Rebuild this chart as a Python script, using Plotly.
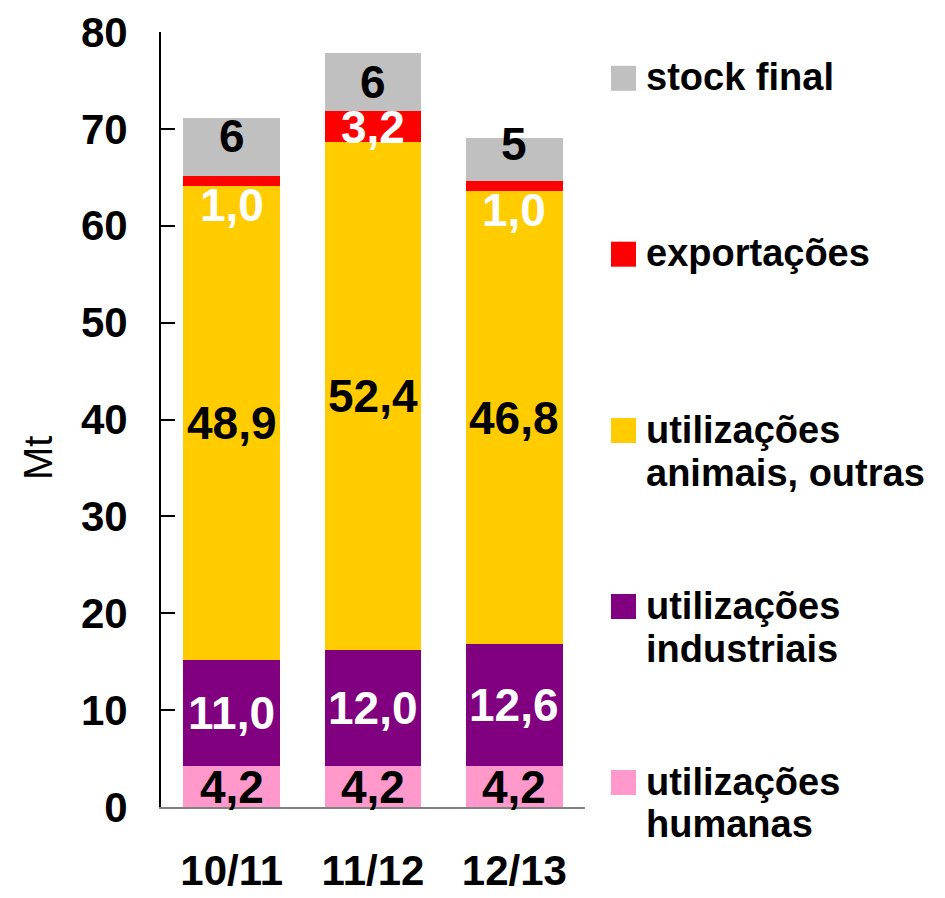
import plotly.graph_objects as go

# ---------------- data ----------------
categories = ["10/11", "11/12", "12/13"]
humanas = [4.2, 4.2, 4.2]
industriais = [11.0, 12.0, 12.6]
animais = [48.9, 52.4, 46.8]
exportacoes = [1.0, 3.2, 1.0]
stock_final = [6.0, 6.0, 4.5]

series_names = ["utilizações humanas", "utilizações industriais",
                "utilizações animais, outras", "exportações", "stock final"]
legend_lines = [["utilizações", "humanas"], ["utilizações", "industriais"],
                ["utilizações", "animais, outras"], ["exportações"], ["stock final"]]
series_values = [humanas, industriais, animais, exportacoes, stock_final]
series_colors = ["#FF99CC", "#800080", "#FFCC00", "#FF0000", "#C0C0C0"]
label_colors = ["black", "white", "black", "white", "black"]
label_formats = ["{:.1f}", "{:.1f}", "{:.1f}", "{:.1f}", "int"]
# per-label vertical nudges (pixels) for stock labels, as in the source chart
stock_label_shift = [11, 0, 15]
y_ticks = [0, 10, 20, 30, 40, 50, 60, 70, 80]

FONT = "Liberation Sans, Arial, sans-serif"

# page offset (html body margin)
OFF = 8
W, H = 945 - 2 * OFF, 898 - 2 * OFF
# plot area in page pixels
PX0, PX1, PY0, PY1 = 161, 585, 32, 807
L, T = PX0 - OFF, PY0 - OFF
R, B = W - (PX1 - OFF), H - (PY1 - OFF)
PW, PH = PX1 - PX0, PY1 - PY0


def px_x(px):
    return (px - PX0) / PW


def px_y(py):
    return (PY1 - py) / PH


fig = go.Figure()
for name, vals, col in zip(series_names, series_values, series_colors):
    fig.add_trace(go.Bar(x=categories, y=vals, name=name, marker=dict(color=col, line=dict(width=0)),
                         showlegend=False, hoverinfo="skip"))

# segment labels
annotations = []
base = [0.0] * len(categories)
for s, (vals, lc, fmt) in enumerate(zip(series_values, label_colors, label_formats)):
    for i, (cat, v) in enumerate(zip(categories, vals)):
        if fmt == "int":
            txt = str(int(v + 0.5))
        else:
            txt = fmt.format(v).replace(".", ",")
        shift = 0
        if v < 2:
            y, ya = base[i], "top"
            shift = 9
        else:
            y, ya = base[i] + v / 2, "middle"
        if s == len(series_values) - 1:
            shift = stock_label_shift[i]
        annotations.append(dict(x=cat, y=y, xref="x", yref="y", text=txt, showarrow=False,
                                yanchor=ya, xanchor="center", yshift=shift,
                                font=dict(family=FONT, size=46, color=lc, weight="bold")))
        base[i] += v

# manual legend (top = stock final)
shapes = []
centers = [782.5, 606.5, 430.5, 254.2, 78.3]
for lines, col, cy in zip(legend_lines, series_colors, centers):
    shapes.append(dict(type="rect", xref="paper", yref="paper",
                       x0=px_x(611), x1=px_x(636), y0=px_y(cy + 12.5), y1=px_y(cy - 12.5),
                       fillcolor=col, line=dict(width=0)))
    for k, ln in enumerate(lines):
        annotations.append(dict(x=px_x(644), y=px_y(cy - 1 + 43 * k), xref="paper", yref="paper",
                                text=ln, showarrow=False, xanchor="left", yanchor="middle",
                                font=dict(family=FONT, size=38, color="black", weight="bold")))

# y title
annotations.append(dict(x=px_x(38), y=px_y(458), xref="paper", yref="paper", text="Mt",
                        showarrow=False, textangle=-90, xanchor="center", yanchor="middle",
                        font=dict(family=FONT, size=40, color="black")))

fig.update_layout(
    width=W, height=H, barmode="stack", bargap=0.317,
    margin=dict(l=L, r=R, t=T, b=B, autoexpand=False),
    plot_bgcolor="white", paper_bgcolor="white",
    annotations=annotations, shapes=shapes,
    xaxis=dict(showline=True, linecolor="#808080", linewidth=2, ticks="", automargin=False,
               tickfont=dict(family=FONT, size=42, color="black", weight="bold"),
               ticklabelstandoff=26, showgrid=False, zeroline=False),
    yaxis=dict(range=[0, 80], tickvals=y_ticks, showline=True, linecolor="black", linewidth=2,
               ticks="inside", ticklen=14, tickwidth=2, tickcolor="black", automargin=False,
               tickfont=dict(family=FONT, size=42, color="black", weight="bold"),
               ticklabelstandoff=23, showgrid=False, zeroline=False),
)

fig.write_html("out.html")
